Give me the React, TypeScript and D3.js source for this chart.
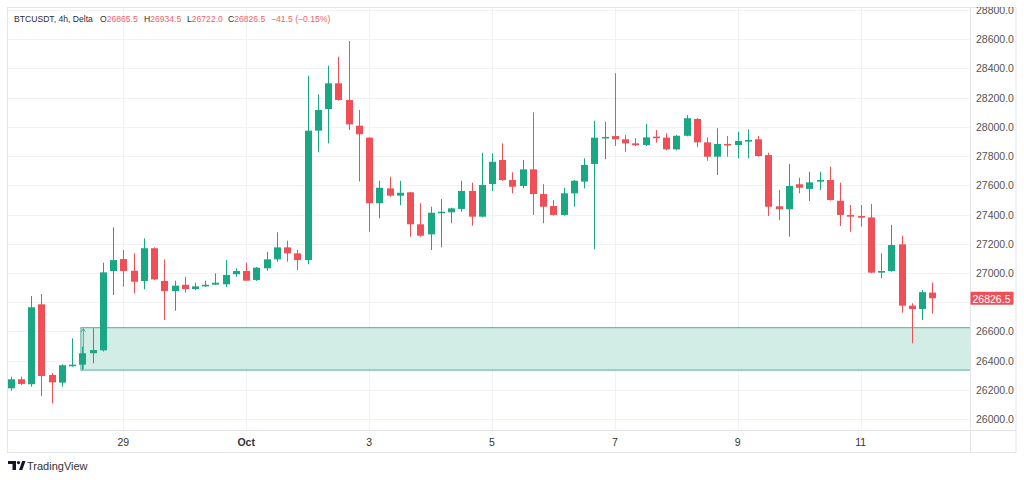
import React from 'react';
import * as d3 from 'd3';

// BTCUSDT 4h candles, starting Sep 27 04:00
const opens = [
  26210, 26272, 26238, 26785, 26301, 26249, 26361, 26372, 26450, 26470, 27013, 27095, 27015, 26945, 27169, 26945,
  26876, 26919, 26890, 26908, 26920, 26922, 26991, 27013, 26952, 27032, 27093, 27175, 27134, 27088, 27974, 28122,
  28298, 28184, 28008, 27926, 27477, 27579, 27529, 27552, 27333, 27264, 27412, 27415, 27438, 27561, 27385, 27609,
  27773, 27636, 27595, 27709, 27540, 27458, 27397, 27545, 27625, 27746, 27926, 27937, 27915, 27887, 27876, 27933,
  27926, 27846, 27939, 28054, 27894, 27796, 27883, 27876, 27899, 27915, 27807, 27456, 27436, 27607, 27575, 27625,
  27636, 27494, 27397, 27390, 27380, 27002, 27013, 27196, 26776, 26753, 26865.5,
];
const highs = [
  26290, 26290, 26842, 26856, 26315, 26374, 26552, 26495, 26621, 27070, 27312, 27157, 27134, 27237, 27175, 27093,
  26947, 26974, 26933, 26947, 26997, 27088, 27032, 27070, 27040, 27145, 27278, 27221, 27157, 28350, 28223, 28419,
  28480, 28588, 28115, 27930, 27631, 27659, 27631, 27555, 27477, 27453, 27506, 27447, 27631, 27618, 27823, 27819,
  27887, 27689, 27773, 28100, 27607, 27499, 27583, 27636, 27785, 28042, 28035, 28367, 27944, 27922, 28020, 27978,
  27956, 27944, 28081, 28060, 27928, 27990, 27937, 27967, 27983, 27937, 27823, 27568, 27746, 27652, 27693, 27693,
  27727, 27618, 27465, 27465, 27472, 27134, 27328, 27253, 26792, 26883, 26934.5,
];
const lows = [
  26194, 26233, 26221, 26157, 26107, 26221, 26358, 26335, 26381, 26462, 26849, 26906, 26860, 26888, 26950, 26678,
  26741, 26865, 26883, 26904, 26917, 26902, 26974, 26945, 26945, 27015, 27077, 27077, 27020, 27059, 27826, 27887,
  28180, 27978, 27625, 27282, 27374, 27522, 27465, 27248, 27248, 27157, 27175, 27340, 27419, 27323, 27380, 27561,
  27630, 27545, 27579, 27397, 27340, 27392, 27392, 27453, 27579, 27162, 27778, 27869, 27830, 27869, 27869, 27892,
  27840, 27840, 27935, 27860, 27768, 27670, 27796, 27785, 27785, 27796, 27390, 27362, 27248, 27545, 27492, 27568,
  27495, 27321, 27282, 27317, 26998, 26963, 27008, 26728, 26518, 26678, 26722,
];
const closes = [
  26272, 26240, 26765, 26294, 26251, 26368, 26372, 26450, 26472, 27004, 27088, 27013, 26940, 27169, 26956, 26876,
  26913, 26890, 26908, 26919, 26933, 26986, 27013, 26947, 27036, 27093, 27175, 27134, 27088, 27974, 28115, 28298,
  28184, 28017, 27949, 27477, 27583, 27529, 27549, 27333, 27255, 27412, 27419, 27442, 27561, 27385, 27602, 27761,
  27636, 27590, 27709, 27540, 27453, 27397, 27545, 27631, 27739, 27926, 27931, 27915, 27887, 27874, 27928, 27922,
  27846, 27939, 28059, 27894, 27796, 27883, 27874, 27903, 27910, 27800, 27453, 27436, 27595, 27583, 27620, 27636,
  27499, 27397, 27385, 27378, 27002, 27013, 27191, 26776, 26753, 26868, 26826.5,
];

const tickDays = [new Date(2023, 8, 29), new Date(2023, 9, 1), new Date(2023, 9, 3), new Date(2023, 9, 5),
  new Date(2023, 9, 7), new Date(2023, 9, 9), new Date(2023, 9, 11)];
const tickLabels = ['29', 'Oct', '3', '5', '7', '9', '11'];

// demand zone
const zoneStart = new Date(2023, 8, 28, 8);
const zoneTop = 26625;
const zoneBottom = 26335;

const H4 = 4 * 3600 * 1000;
const t0 = new Date(2023, 8, 27, 4);
const times = opens.map((_, i) => new Date(t0.getTime() + i * H4));

const UP = '#1aa783';
const DOWN = '#ef5057';
const LEGEND_RED = '#f0636b';
const FONT = '"Liberation Sans", Arial, sans-serif';
const MINUS = '\u2212';

const App = () => {
  const left = 7, right = 970.5, top = 7, bottom = 430.5, outerR = 1016, outerB = 452.5;

  const x = d3.scaleTime()
    .domain([times[0], times[times.length - 1]])
    .range([10.7, 932.3]);
  const y = d3.scaleLinear().domain([26000, 28800]).range([419, 10]);
  const bodyW = 7;

  const last = closes.length - 1;
  const change = closes[last] - closes[last - 1];
  const pct = (change / closes[last - 1]) * 100;
  const fmt = d3.format('.1f');
  const signed = (v: number, f: (n: number) => string) => (v < 0 ? MINUS : '+') + f(Math.abs(v));

  const lastY = y(closes[last]);
  const yTicks = y.ticks(14).filter((v) => Math.abs(y(v) - lastY) > 12);

  const legend = [
    { x: 100, k: 'O', v: fmt(opens[last]) },
    { x: 144, k: 'H', v: fmt(highs[last]) },
    { x: 187, k: 'L', v: fmt(lows[last]) },
    { x: 228, k: 'C', v: fmt(closes[last]) },
    { x: 271, k: '', v: `${signed(change, fmt)} (${signed(pct, (n) => n.toFixed(2))}%)` },
  ];

  return (
    <svg width={1024} height={480} style={{ position: 'absolute', left: 0, top: 0, background: '#fff' }}
      fontFamily={FONT}>
      <defs>
        <clipPath id="plot"><rect x={left} y={top} width={right - left} height={bottom - top} /></clipPath>
        <clipPath id="axis"><rect x={right} y={top} width={outerR - right} height={bottom - top} /></clipPath>
      </defs>
      <rect x={0} y={0} width={1024} height={480} fill="#fff" />

      {/* grid */}
      <g stroke="#f1f2f5" strokeWidth={1}>
        {y.ticks(14).map((v) => (
          <line key={v} x1={left} x2={right} y1={Math.round(y(v)) + 0.5} y2={Math.round(y(v)) + 0.5} />
        ))}
        {tickDays.map((d, i) => (
          <line key={i} x1={Math.round(x(d)) + 0.5} x2={Math.round(x(d)) + 0.5} y1={top} y2={bottom} />
        ))}
      </g>

      {/* zone */}
      <g clipPath="url(#plot)">
        <rect x={x(zoneStart) - 1.5} y={y(zoneTop)} width={right - x(zoneStart) + 1.5}
          height={y(zoneBottom) - y(zoneTop)} fill="#d2ede6" stroke="#4fae9e" strokeWidth={1} />
        <line x1={x(zoneStart) + 1} x2={x(zoneStart) + 1} y1={y(zoneTop) + 1} y2={y(zoneBottom) - 1}
          stroke="#3d8f83" strokeWidth={0.8} />
        <path d={`M${x(zoneStart) - 1},${y(zoneTop) + 4} L${x(zoneStart) + 1},${y(zoneTop) + 1} L${x(zoneStart) + 3},${y(zoneTop) + 4}`}
          fill="none" stroke="#3d8f83" strokeWidth={0.8} />
      </g>

      {/* candles */}
      <g clipPath="url(#plot)">
        {times.map((t, i) => {
          const up = closes[i] >= opens[i];
          const c = up ? UP : DOWN;
          const cx = Math.round(x(t)) + 0.5;
          const yTop = y(Math.max(opens[i], closes[i]));
          const yBot = y(Math.min(opens[i], closes[i]));
          return (
            <g key={i}>
              <line x1={cx} x2={cx} y1={y(highs[i])} y2={y(lows[i])} stroke={c} strokeWidth={1} />
              <rect x={cx - bodyW / 2} y={yTop} width={bodyW} height={Math.max(1.5, yBot - yTop)} fill={c} />
            </g>
          );
        })}
      </g>

      {/* frame */}
      <g stroke="#e3e5ea" strokeWidth={1} fill="none">
        <rect x={left + 0.5} y={top + 0.5} width={outerR - left - 0.5} height={outerB - top - 0.5} />
        <line x1={right} x2={right} y1={top} y2={outerB} />
        <line x1={left} x2={outerR} y1={bottom} y2={bottom} />
      </g>

      {/* price axis */}
      <g clipPath="url(#axis)" fontSize={10.5} fill="#545454">
        {yTicks.map((v) => (
          <text key={v} x={976} y={y(v)} dominantBaseline="central">{fmt(v)}</text>
        ))}
      </g>
      <rect x={right} y={lastY - 6.5} width={43} height={13} fill={DOWN} rx={1} />
      <text x={991.5} y={lastY + 0.5} fontSize={10.5} fill="#fff" textAnchor="middle"
        dominantBaseline="central">{fmt(closes[last])}</text>

      {/* time axis */}
      <g fontSize={10.5} fill="#333" textAnchor="middle">
        {tickDays.map((d, i) => (
          <text key={i} x={x(d)} y={442} dominantBaseline="central" fontWeight={tickLabels[i] === 'Oct' ? 'bold' : 'normal'}>
            {tickLabels[i]}
          </text>
        ))}
      </g>

      {/* legend */}
      <g fontSize={8.6} dominantBaseline="central">
        <text x={14} y={19} fill="#2a2e39">BTCUSDT, 4h, Delta</text>
        {legend.map((l) => (
          <text key={l.x} x={l.x} y={19} fill="#2a2e39">
            {l.k}<tspan fill={LEGEND_RED}>{l.v}</tspan>
          </text>
        ))}
      </g>

      {/* logo */}
      <g fill="#131722">
        <path d="M8,461 h8 v9 h-3.5 v-6 h-4.5 z" />
        <circle cx={18.5} cy={462.6} r={1.6} />
        <path d="M19,470 l3.2,-9 h3.3 l-3.2,9 z" />
      </g>
      <text x={27} y={466} fontSize={11} fill="#333" dominantBaseline="central">TradingView</text>
    </svg>
  );
};

export default App;
